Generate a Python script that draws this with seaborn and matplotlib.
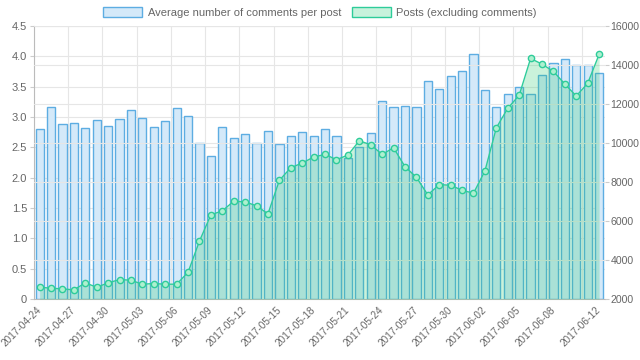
import numpy as np
import pandas as pd
import matplotlib
matplotlib.use("Agg")
import matplotlib.pyplot as plt
import seaborn as sns
from matplotlib.patches import Patch

# daily data 2017-04-24 .. 2017-06-12
dates = pd.date_range("2017-04-24", "2017-06-12").strftime("%Y-%m-%d").tolist()
avg_comments = [2.80, 3.17, 2.89, 2.90, 2.82, 2.95, 2.86, 2.97, 3.12, 2.99,
                2.83, 2.94, 3.14, 3.02, 2.58, 2.35, 2.84, 2.66, 2.72, 2.58,
                2.77, 2.55, 2.69, 2.76, 2.69, 2.81, 2.68, 2.32, 2.50, 2.74,
                3.26, 3.17, 3.18, 3.17, 3.60, 3.46, 3.67, 3.76, 4.03, 3.44,
                3.17, 3.38, 3.49, 3.38, 3.69, 3.89, 3.95, 3.86, 3.86, 3.72]
posts = [2612, 2561, 2527, 2476, 2834, 2612, 2834, 3004, 2970, 2766,
         2800, 2766, 2766, 3378, 4977, 6321, 6525, 7019, 6985, 6781,
         6372, 8090, 8736, 8975, 9281, 9417, 9145, 9383, 10115, 9911,
         9417, 9757, 8787, 8243, 7342, 7869, 7835, 7580, 7427, 8566,
         10777, 11781, 12444, 14332, 14043, 13669, 13022, 12410, 13056, 14537]

df = pd.DataFrame({"date": dates, "avg": avg_comments, "posts": posts})
df["pos"] = np.arange(len(df))

bar_edge = "#5dade2"
bar_fill = "#d4e9f9"
line_col = "#2ecc9a"
fill_col = "#2ecc71"
txt = "#666666"
grid = "#e6e6e6"

sns.set_style("white")
plt.rcParams["font.family"] = ["Liberation Sans", "DejaVu Sans"]

fig = plt.figure(figsize=(6.4, 3.6), dpi=100)
ax = fig.add_axes([0.053, 0.169, 0.892, 0.759])

sns.barplot(data=df, x="pos", y="avg", ax=ax, color=bar_fill, edgecolor=bar_edge,
            linewidth=1, width=0.72, saturation=1, zorder=2)
ax.set_ylim(0, 4.5)
ax.set_yticks(np.arange(0, 4.51, 0.5))
ax.set_yticklabels(["0"] + [f"{v:.1f}" for v in np.arange(0.5, 4.51, 0.5)])
ax.set_xlim(-0.5, len(df) - 0.5)

# x ticks every 3 days plus the last one
tick_idx = list(range(0, len(df) - 2, 3)) + [len(df) - 1]
ax.set_xticks([i - 0.3 for i in tick_idx])
ax.set_xticklabels([dates[i] for i in tick_idx], rotation=45, ha="right",
                   rotation_mode="anchor", fontsize=7.2, color=txt)
for x in range(0, len(df), 3):
    ax.axvline(x - 0.5, color=grid, lw=0.8, zorder=0)
for y in np.arange(0.5, 4.51, 0.5):
    ax.axhline(y, color=grid, lw=0.8, zorder=0)
ax.set_xlabel("")
ax.set_ylabel("")
ax.tick_params(axis="y", labelsize=8, colors=txt, length=3, color="#cccccc", pad=2)
ax.tick_params(axis="x", length=0, pad=4)
for s in ["top", "right"]:
    ax.spines[s].set_visible(False)
ax.spines["left"].set_color("#bbbbbb")
ax.spines["bottom"].set_color("#bbbbbb")

ax2 = ax.twinx()
ax2.set_ylim(2000, 16000)
ax2.set_yticks(np.arange(2000, 16001, 2000))
for y in np.arange(4000, 16001, 2000):
    ax2.axhline(y, color=grid, lw=0.8, zorder=0)
ax2.fill_between(df["pos"], df["posts"], 2000, color=fill_col, alpha=0.25, lw=0, zorder=1)
sns.lineplot(data=df, x="pos", y="posts", ax=ax2, color=line_col, lw=1,
             marker="o", markersize=4.5, markerfacecolor="#aef0cf",
             markeredgecolor=line_col, markeredgewidth=1, zorder=3)
ax2.set_xlim(-0.5, len(df) - 0.5)
ax2.set_ylabel("")
ax2.tick_params(axis="y", labelsize=7.6, colors=txt, length=3, color="#cccccc", pad=1)
for s in ["top", "left", "bottom", "right"]:
    ax2.spines[s].set_visible(False)

handles = [Patch(facecolor=bar_fill, edgecolor=bar_edge, lw=1, label="Average number of comments per post"),
           Patch(facecolor="#c8f2dc", edgecolor=line_col, lw=1, label="Posts (excluding comments)")]
fig.legend(handles=handles, loc="upper center", bbox_to_anchor=(0.5, 1.0), ncol=2,
           frameon=False, fontsize=8, labelcolor=txt, handlelength=3.5, handleheight=1.1,
           columnspacing=1.0, handletextpad=0.5, borderaxespad=0.2)

fig.savefig("out.png", dpi=100)
